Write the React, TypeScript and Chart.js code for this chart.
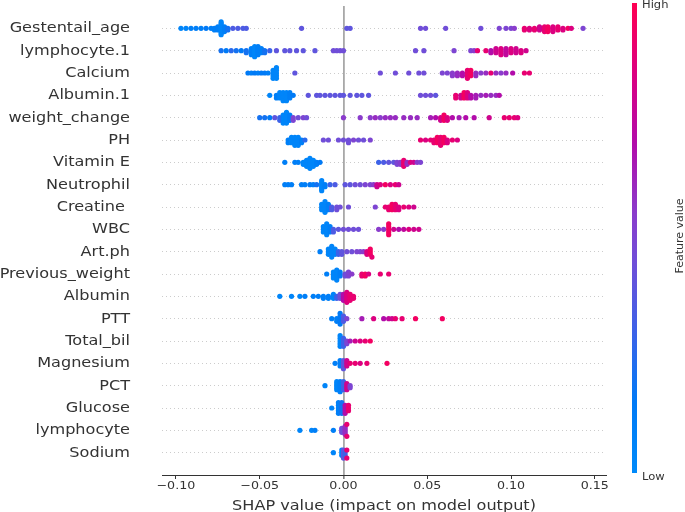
import React, { useEffect, useRef } from 'react';
import { Chart, registerables } from 'chart.js';
Chart.register(...registerables);

// ---------- DATA ----------
const features = [
  'Gestentail_age', 'lymphocyte.1', 'Calcium', 'Albumin.1', 'weight_change', 'PH', 'Vitamin E',
  'Neutrophil', 'Creatine ', 'WBC', 'Art.ph', 'Previous_weight', 'Albumin', 'PTT', 'Total_bil',
  'Magnesium', 'PCT', 'Glucose', 'lymphocyte', 'Sodium',
];

// each entry: [SHAP value, feature value (0 = low, 1 = high), number of samples]
type P = [number, number, number];

const gestentailAge: P[] = [
  [-0.097, 0.05, 1], [-0.094, 0.05, 1], [-0.091, 0.1, 1], [-0.088, 0.1, 1], [-0.085, 0.1, 1], [-0.082, 0.15, 1],
  [-0.079, 0.1, 1], [-0.077, 0.1, 2], [-0.075, 0.1, 3], [-0.073, 0.05, 9], [-0.071, 0.1, 4], [-0.069, 0.2, 2],
  [-0.066, 0.35, 1], [-0.063, 0.35, 1], [-0.06, 0.35, 1], [-0.058, 0.35, 1], [-0.025, 0.4, 1], [0.002, 0.4, 1],
  [0.004, 0.4, 1], [0.046, 0.45, 1], [0.049, 0.45, 1], [0.061, 0.45, 1], [0.082, 0.45, 1], [0.093, 0.5, 1],
  [0.097, 0.5, 1], [0.1, 0.5, 1], [0.102, 0.55, 1], [0.108, 0.9, 2], [0.111, 0.85, 2], [0.114, 0.9, 2],
  [0.117, 0.8, 3], [0.12, 0.9, 4], [0.122, 0.95, 4], [0.125, 0.85, 4], [0.128, 0.9, 3], [0.131, 0.85, 2],
  [0.134, 0.95, 1], [0.136, 0.85, 1], [0.143, 0.5, 1],
];
const lymphocyte1: P[] = [
  [-0.073, 0.2, 1], [-0.07, 0.15, 1], [-0.067, 0.25, 1], [-0.064, 0.2, 1], [-0.061, 0.15, 1], [-0.058, 0.2, 2],
  [-0.055, 0.1, 4], [-0.053, 0.05, 6], [-0.051, 0.1, 5], [-0.049, 0.1, 3], [-0.047, 0.2, 2], [-0.044, 0.3, 1],
  [-0.04, 0.4, 1], [-0.035, 0.4, 1], [-0.032, 0.4, 1], [-0.028, 0.4, 1], [-0.024, 0.4, 1], [-0.017, 0.4, 1],
  [-0.006, 0.45, 1], [-0.004, 0.45, 1], [-0.002, 0.45, 1], [0.0, 0.45, 1], [0.043, 0.45, 1], [0.048, 0.45, 1],
  [0.066, 0.5, 1], [0.076, 0.5, 1], [0.078, 0.55, 1], [0.08, 0.9, 1], [0.085, 0.9, 1], [0.088, 0.7, 2],
  [0.091, 0.8, 3], [0.094, 0.85, 4], [0.097, 0.75, 4], [0.1, 0.85, 3], [0.103, 0.8, 3], [0.106, 0.85, 2],
  [0.109, 0.8, 1],
];
const calcium: P[] = [
  [-0.057, 0.15, 1], [-0.055, 0.1, 1], [-0.053, 0.15, 1], [-0.051, 0.1, 1], [-0.049, 0.15, 1], [-0.047, 0.15, 1],
  [-0.045, 0.1, 1], [-0.042, 0.05, 4], [-0.04, 0.05, 5], [-0.029, 0.4, 1], [0.022, 0.45, 1], [0.031, 0.45, 1],
  [0.039, 0.45, 1], [0.045, 0.45, 1], [0.048, 0.45, 1], [0.059, 0.5, 1], [0.062, 0.5, 1], [0.065, 0.55, 2],
  [0.068, 0.6, 2], [0.071, 0.7, 2], [0.074, 0.9, 4], [0.076, 0.95, 3], [0.079, 0.6, 2], [0.082, 0.55, 1],
  [0.085, 0.6, 1], [0.088, 0.9, 1], [0.091, 0.6, 1], [0.094, 0.55, 1], [0.097, 0.6, 1], [0.101, 0.7, 1],
  [0.108, 0.9, 1], [0.111, 0.9, 1],
];
const albumin1: P[] = [
  [-0.044, 0.05, 1], [-0.04, 0.1, 2], [-0.038, 0.05, 3], [-0.036, 0.05, 4], [-0.034, 0.05, 4], [-0.032, 0.1, 3],
  [-0.03, 0.15, 1], [-0.021, 0.4, 1], [-0.016, 0.4, 1], [-0.014, 0.4, 1], [-0.011, 0.4, 1], [-0.008, 0.4, 1],
  [-0.005, 0.4, 1], [-0.002, 0.4, 1], [0.0, 0.4, 1], [0.004, 0.4, 1], [0.008, 0.4, 1], [0.011, 0.4, 1],
  [0.015, 0.4, 1], [0.046, 0.45, 1], [0.049, 0.45, 1], [0.052, 0.45, 1], [0.055, 0.4, 1], [0.067, 0.9, 2],
  [0.07, 0.8, 2], [0.072, 0.95, 3], [0.074, 0.85, 3], [0.076, 0.7, 2], [0.079, 0.65, 2], [0.082, 0.6, 1],
  [0.085, 0.65, 1], [0.088, 0.6, 1], [0.091, 0.6, 1], [0.093, 0.7, 1],
];
const weightChange: P[] = [
  [-0.05, 0.2, 1], [-0.047, 0.2, 1], [-0.044, 0.15, 1], [-0.041, 0.4, 1], [-0.038, 0.3, 2], [-0.036, 0.05, 4],
  [-0.034, 0.05, 5], [-0.032, 0.1, 3], [-0.03, 0.5, 2], [-0.027, 0.45, 1], [-0.024, 0.5, 1], [-0.022, 0.45, 1],
  [0.0, 0.55, 1], [0.01, 0.55, 1], [0.016, 0.55, 1], [0.019, 0.6, 1], [0.022, 0.55, 1], [0.025, 0.6, 1],
  [0.028, 0.6, 1], [0.031, 0.6, 1], [0.036, 0.6, 1], [0.04, 0.6, 1], [0.044, 0.6, 1], [0.052, 0.65, 1],
  [0.055, 0.7, 1], [0.058, 0.8, 2], [0.06, 0.95, 3], [0.062, 0.85, 2], [0.065, 0.7, 1], [0.069, 0.65, 1],
  [0.073, 0.7, 1], [0.078, 0.7, 1], [0.087, 0.8, 1], [0.096, 0.9, 1], [0.099, 0.9, 1], [0.102, 0.9, 1],
  [0.104, 0.85, 1],
];
const ph: P[] = [
  [-0.033, 0.1, 2], [-0.031, 0.05, 3], [-0.029, 0.05, 4], [-0.027, 0.05, 4], [-0.025, 0.1, 2], [-0.023, 0.25, 1],
  [-0.012, 0.45, 1], [-0.009, 0.45, 1], [-0.003, 0.45, 1], [0.0, 0.45, 1], [0.003, 0.45, 2], [0.006, 0.5, 1],
  [0.009, 0.45, 1], [0.012, 0.45, 1], [0.016, 0.5, 1], [0.046, 0.9, 1], [0.049, 0.85, 1], [0.052, 0.9, 1],
  [0.054, 0.9, 2], [0.056, 0.95, 3], [0.058, 0.9, 4], [0.06, 0.95, 3], [0.062, 0.85, 2], [0.065, 0.9, 1],
  [0.068, 0.85, 1],
];
const vitaminE: P[] = [
  [-0.035, 0.1, 1], [-0.029, 0.1, 1], [-0.027, 0.1, 1], [-0.024, 0.05, 2], [-0.022, 0.05, 4], [-0.02, 0.05, 6],
  [-0.018, 0.05, 4], [-0.016, 0.1, 2], [-0.014, 0.15, 1], [0.021, 0.3, 1], [0.024, 0.35, 1], [0.027, 0.4, 1],
  [0.03, 0.4, 1], [0.032, 0.5, 2], [0.034, 0.55, 2], [0.036, 0.9, 4], [0.038, 0.6, 2], [0.04, 0.85, 1],
  [0.042, 0.8, 1], [0.044, 0.55, 1], [0.046, 0.5, 1],
];
const neutrophil: P[] = [
  [-0.035, 0.1, 1], [-0.033, 0.1, 1], [-0.031, 0.1, 1], [-0.025, 0.1, 1], [-0.023, 0.1, 1], [-0.02, 0.15, 1],
  [-0.018, 0.1, 1], [-0.016, 0.2, 1], [-0.013, 0.05, 6], [-0.011, 0.1, 2], [-0.008, 0.3, 1], [-0.005, 0.35, 1],
  [0.001, 0.4, 1], [0.004, 0.4, 1], [0.007, 0.45, 1], [0.01, 0.45, 1], [0.013, 0.5, 1], [0.016, 0.5, 1],
  [0.018, 0.55, 1], [0.02, 0.8, 2], [0.022, 0.85, 1], [0.025, 0.95, 1], [0.028, 0.85, 1], [0.031, 0.9, 1],
  [0.033, 0.8, 1],
];
const creatine: P[] = [
  [-0.013, 0.05, 3], [-0.011, 0.05, 5], [-0.009, 0.1, 3], [-0.007, 0.35, 2], [-0.004, 0.45, 2], [-0.002, 0.45, 1],
  [0.003, 0.45, 1], [0.019, 0.5, 1], [0.025, 0.9, 1], [0.027, 0.9, 2], [0.029, 0.95, 3], [0.031, 0.9, 3],
  [0.033, 0.85, 2], [0.036, 0.9, 1], [0.039, 0.85, 1], [0.042, 0.8, 1],
];
const wbc: P[] = [
  [-0.012, 0.05, 3], [-0.01, 0.05, 5], [-0.008, 0.1, 3], [-0.006, 0.35, 2], [-0.003, 0.4, 1], [0.0, 0.45, 1],
  [0.003, 0.45, 1], [0.006, 0.45, 1], [0.009, 0.45, 1], [0.021, 0.55, 1], [0.024, 0.55, 1], [0.027, 0.95, 5],
  [0.03, 0.8, 1], [0.033, 0.7, 1], [0.036, 0.75, 1], [0.039, 0.85, 1], [0.042, 0.8, 1], [0.045, 0.8, 1],
];
const artPh: P[] = [
  [-0.014, 0.1, 1], [-0.009, 0.05, 3], [-0.007, 0.05, 5], [-0.005, 0.05, 3], [-0.003, 0.3, 2], [-0.001, 0.4, 2],
  [0.002, 0.45, 1], [0.005, 0.45, 1], [0.008, 0.5, 1], [0.01, 0.5, 1], [0.012, 0.55, 1], [0.014, 0.85, 2],
  [0.016, 0.95, 3], [0.017, 0.9, 1],
];
const previousWeight: P[] = [
  [-0.01, 0.1, 1], [-0.006, 0.05, 4], [-0.004, 0.05, 6], [-0.002, 0.1, 3], [0.001, 0.45, 2], [0.003, 0.5, 3],
  [0.005, 0.55, 1], [0.011, 0.9, 2], [0.013, 0.95, 2], [0.015, 0.85, 1], [0.022, 0.9, 1], [0.027, 0.9, 1],
];
const albumin: P[] = [
  [-0.038, 0.05, 1], [-0.031, 0.05, 1], [-0.026, 0.05, 1], [-0.023, 0.1, 1], [-0.018, 0.1, 1], [-0.015, 0.1, 1],
  [-0.012, 0.1, 2], [-0.009, 0.1, 2], [-0.006, 0.05, 3], [-0.004, 0.3, 2], [-0.002, 0.45, 3], [0.0, 0.7, 4],
  [0.002, 0.85, 6], [0.004, 0.9, 4], [0.006, 0.9, 2],
];
const ptt: P[] = [
  [-0.007, 0.1, 1], [-0.004, 0.1, 2], [-0.002, 0.15, 5], [0.0, 0.35, 3], [0.002, 0.5, 1], [0.011, 0.65, 1],
  [0.018, 0.85, 1], [0.024, 0.7, 1], [0.027, 0.75, 1], [0.029, 0.8, 1], [0.031, 0.9, 1], [0.035, 0.9, 1],
  [0.043, 0.95, 1], [0.059, 0.95, 1],
];
const totalBil: P[] = [
  [-0.002, 0.05, 5], [0.0, 0.3, 4], [0.002, 0.5, 2], [0.004, 0.65, 1], [0.007, 0.8, 1], [0.01, 0.85, 1],
  [0.013, 0.9, 1], [0.016, 0.95, 1],
];
const magnesium: P[] = [
  [-0.005, 0.1, 1], [-0.002, 0.1, 3], [0.0, 0.4, 4], [0.002, 0.8, 3], [0.004, 0.9, 1], [0.007, 0.9, 1],
  [0.01, 0.85, 1], [0.014, 0.9, 1], [0.026, 0.95, 1],
];
const pct: P[] = [
  [-0.011, 0.05, 1], [-0.004, 0.05, 5], [-0.002, 0.1, 6], [0.0, 0.3, 5], [0.002, 0.8, 4], [0.004, 0.5, 2],
];
const glucose: P[] = [
  [-0.007, 0.05, 1], [-0.003, 0.1, 5], [-0.001, 0.2, 5], [0.001, 0.7, 4], [0.003, 0.9, 3],
];
const lymphocyte: P[] = [
  [-0.026, 0.05, 1], [-0.019, 0.05, 1], [-0.017, 0.1, 1], [-0.006, 0.1, 1], [-0.001, 0.45, 3], [0.001, 0.6, 5],
  [0.002, 0.9, 2],
];
const sodium: P[] = [
  [-0.006, 0.05, 1], [-0.001, 0.05, 3], [0.0, 0.4, 4], [0.001, 0.3, 2], [0.002, 0.9, 2],
];

const rows: P[][] = [
  gestentailAge, lymphocyte1, calcium, albumin1, weightChange, ph, vitaminE, neutrophil, creatine, wbc,
  artPh, previousWeight, albumin, ptt, totalBil, magnesium, pct, glucose, lymphocyte, sodium,
];

const xTicks = [-0.1, -0.05, 0, 0.05, 0.1, 0.15];
const xTitle = 'SHAP value (impact on model output)';
const cbHigh = 'High';
const cbLow = 'Low';
const cbTitle = 'Feature value';

// ---------- STYLE ----------
const cmapStops: [number, number, number, number][] = [
  [0, 0, 138, 250], [0.15, 0, 122, 246], [0.3, 60, 98, 232], [0.45, 112, 78, 216],
  [0.55, 138, 60, 204], [0.7, 178, 12, 170], [0.85, 220, 0, 128], [1, 255, 0, 82],
];
function cmap(v: number): string {
  for (let i = 1; i < cmapStops.length; i++) {
    const a = cmapStops[i - 1], b = cmapStops[i];
    if (v <= b[0]) {
      const t = (v - a[0]) / (b[0] - a[0]);
      const c = [1, 2, 3].map((k) => Math.round(a[k] + (b[k] - a[k]) * t));
      return `rgb(${c[0]},${c[1]},${c[2]})`;
    }
  }
  const l = cmapStops[cmapStops.length - 1];
  return `rgb(${l[1]},${l[2]},${l[3]})`;
}

// beeswarm layout (as in SHAP summary plot)
function beeswarm(pts: P[], rowIdx: number) {
  const exp: { x: number; f: number }[] = [];
  pts.forEach(([x, f, n]) => { for (let i = 0; i < n; i++) exp.push({ x, f }); });
  const binW = 0.0018;
  const q = exp.map((p) => Math.round(p.x / binW));
  const order = exp.map((_, i) => i).sort((a, b) => q[a] - q[b] || a - b);
  const ys = new Array(exp.length).fill(0);
  let layer = 0;
  let last: number | null = null;
  for (const i of order) {
    if (q[i] !== last) layer = 0;
    ys[i] = Math.ceil(layer / 2) * ((layer % 2) * 2 - 1);
    layer++;
    last = q[i];
  }
  const maxY = Math.max(...ys);
  const s = (0.9 * 0.4) / (maxY + 1);
  return exp.map((p, i) => ({ x: p.x, y: rowIdx + ys[i] * s, f: p.f }));
}

const TXT = '#333333';
const FONT = "'DejaVu Sans', sans-serif";
const SX = 1.15;

function stretchedText(ctx: CanvasRenderingContext2D, text: string, x: number, y: number, align: CanvasTextAlign, base: CanvasTextBaseline, size: number) {
  ctx.save();
  ctx.translate(x, y);
  ctx.scale(SX, 1);
  ctx.font = `${size}px ${FONT}`;
  ctx.fillStyle = TXT;
  ctx.textAlign = align;
  ctx.textBaseline = base;
  ctx.fillText(text, 0, 0);
  ctx.restore();
}

const fmt = (v: number) => (v < 0 ? '\u2212' + Math.abs(v).toFixed(2) : v.toFixed(2));

const overlay = {
  id: 'overlay',
  afterDraw(chart: any) {
    const ctx: CanvasRenderingContext2D = chart.ctx;
    const xs = chart.scales.x;
    const ys = chart.scales.y;
    const area = chart.chartArea;
    // y labels
    features.forEach((name, i) => {
      stretchedText(ctx, name, 130, ys.getPixelForValue(i) + 0.5, 'right', 'middle', 14);
    });
    // x tick labels
    xTicks.forEach((v) => {
      stretchedText(ctx, fmt(v), xs.getPixelForValue(v), 486, 'center', 'middle', 11);
    });
    // x title
    stretchedText(ctx, xTitle, (area.left + area.right) / 2, 510, 'center', 'alphabetic', 14);
    // colorbar
    const top = 3, bottom = 473, cx = 632, cw = 5;
    const g = ctx.createLinearGradient(0, bottom, 0, top);
    cmapStops.forEach((s) => g.addColorStop(s[0], `rgb(${s[1]},${s[2]},${s[3]})`));
    ctx.fillStyle = g;
    ctx.fillRect(cx, top, cw, bottom - top);
    stretchedText(ctx, cbHigh, 642, 7.5, 'left', 'alphabetic', 10);
    stretchedText(ctx, cbLow, 642, 480, 'left', 'alphabetic', 10);
    ctx.save();
    ctx.translate(680, 236);
    ctx.rotate(-Math.PI / 2);
    ctx.font = `11px ${FONT}`;
    ctx.fillStyle = TXT;
    ctx.textAlign = 'center';
    ctx.textBaseline = 'middle';
    ctx.fillText(cbTitle, 0, 0);
    ctx.restore();
  },
};

export default function App() {
  const ref = useRef<HTMLCanvasElement>(null);
  useEffect(() => {
    if (!ref.current) return;
    const datasets = rows.map((r, i) => {
      const pts = beeswarm(r, i);
      return {
        label: features[i],
        data: pts.map((p) => ({ x: p.x, y: p.y })),
        pointBackgroundColor: pts.map((p) => cmap(p.f)),
        pointBorderWidth: 0,
        pointRadius: 2.6,
        pointHoverRadius: 2.6,
      };
    });
    const chart = new Chart(ref.current, {
      type: 'scatter',
      data: { datasets },
      options: {
        animation: false,
        responsive: false,
        devicePixelRatio: 1,
        layout: { padding: { top: 6, right: 79, left: 0, bottom: 0 } },
        plugins: { legend: { display: false }, tooltip: { enabled: false } },
        scales: {
          x: {
            type: 'linear',
            min: -0.1083,
            max: 0.1567,
            afterBuildTicks: (s: any) => { s.ticks = xTicks.map((v) => ({ value: v })); },
            afterFit: (s: any) => { s.height = 37; },
            ticks: { display: false },
            grid: {
              color: (c: any) => (c.tick && Math.abs(c.tick.value) < 1e-9 ? '#a8a8a8' : 'rgba(0,0,0,0)'),
              lineWidth: (c: any) => (c.tick && Math.abs(c.tick.value) < 1e-9 ? 1.8 : 1),
              tickColor: '#333333',
              tickLength: 4,
              tickWidth: 1,
              drawTicks: true,
            },
            border: { display: true, color: '#333333', width: 1 },
          },
          y: {
            type: 'linear',
            reverse: true,
            min: -1,
            max: 20,
            afterBuildTicks: (s: any) => { s.ticks = features.map((_, i) => ({ value: i })); },
            afterFit: (s: any) => { s.width = 162; },
            ticks: { display: false },
            grid: { color: '#cccccc', lineWidth: 1, drawTicks: false },
            border: { display: false, dash: [1, 3] },
          },
        },
      } as any,
      plugins: [overlay],
    });
    return () => chart.destroy();
  }, []);
  return (
    <div style={{ position: 'fixed', left: 0, top: 0, width: 685, height: 512, background: '#fff' }}>
      <canvas ref={ref} width={685} height={512} style={{ width: 685, height: 512, display: 'block' }} />
    </div>
  );
}
